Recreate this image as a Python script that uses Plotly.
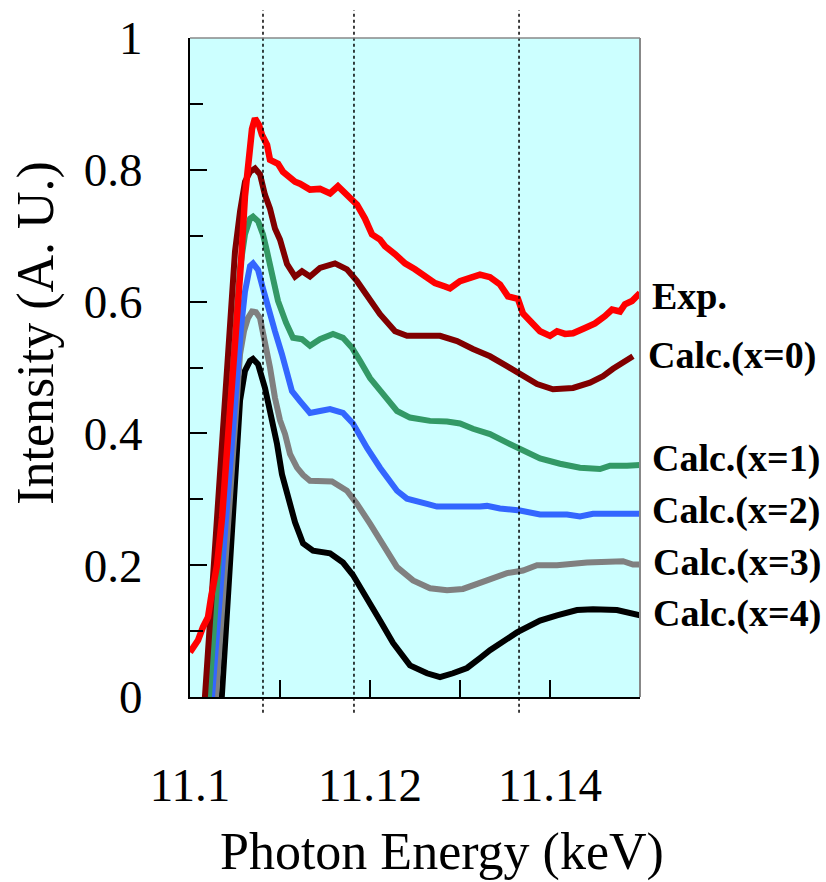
import plotly.graph_objects as go

# ---- data (Photon energy in keV, intensity in A.U.) ----
exp_e = [11.10000, 11.10089, 11.10144, 11.10200, 11.10233, 11.10300, 11.10356, 11.10411, 11.10467, 11.10522,
         11.10567, 11.10611, 11.10656, 11.10689, 11.10722, 11.10767, 11.10800, 11.10856, 11.10889, 11.10944,
         11.10978, 11.11033, 11.11111, 11.11167, 11.11222, 11.11333, 11.11444, 11.11556, 11.11644, 11.11722,
         11.11800, 11.11856, 11.11944, 11.12022, 11.12111, 11.12167, 11.12278, 11.12389, 11.12500, 11.12611,
         11.12722, 11.12833, 11.12889, 11.13000, 11.13111, 11.13222, 11.13333, 11.13444, 11.13533, 11.13644,
         11.13700, 11.13778, 11.13889, 11.14000, 11.14078, 11.14167, 11.14256, 11.14389, 11.14500, 11.14611,
         11.14689, 11.14778, 11.14833, 11.14911, 11.15000]
exp_i = [0.068, 0.086, 0.106, 0.121, 0.150, 0.200, 0.272, 0.374, 0.475, 0.560,
         0.660, 0.760, 0.830, 0.862, 0.878, 0.868, 0.853, 0.838, 0.815, 0.812,
         0.809, 0.797, 0.788, 0.782, 0.779, 0.770, 0.771, 0.764, 0.775, 0.764,
         0.756, 0.747, 0.726, 0.702, 0.694, 0.684, 0.672, 0.658, 0.649, 0.638,
         0.628, 0.623, 0.620, 0.631, 0.635, 0.641, 0.637, 0.626, 0.608, 0.604,
         0.582, 0.570, 0.555, 0.548, 0.555, 0.551, 0.552, 0.560, 0.567, 0.578,
         0.588, 0.585, 0.596, 0.601, 0.613]

x0_e = [11.10156, 11.10422, 11.10500, 11.10556, 11.10611, 11.10667, 11.10722, 11.10778, 11.10833, 11.10889,
        11.10944, 11.11000, 11.11078, 11.11167, 11.11244, 11.11333, 11.11444, 11.11611, 11.11744, 11.11856,
        11.12000, 11.12111, 11.12278, 11.12411, 11.12778, 11.12967, 11.13144, 11.13333, 11.13522, 11.13667,
        11.13856, 11.14033, 11.14256, 11.14444, 11.14589, 11.14700, 11.14922]
x0_i = [-0.02, 0.510, 0.676, 0.737, 0.782, 0.797, 0.802, 0.793, 0.762, 0.741,
        0.711, 0.694, 0.657, 0.638, 0.646, 0.638, 0.651, 0.658, 0.649, 0.631,
        0.601, 0.581, 0.555, 0.548, 0.548, 0.540, 0.528, 0.517, 0.502, 0.490,
        0.475, 0.467, 0.469, 0.477, 0.487, 0.498, 0.517]

x1_e = [11.10200, 11.10467, 11.10500, 11.10556, 11.10611, 11.10667, 11.10700, 11.10756, 11.10811, 11.10856,
        11.10911, 11.10978, 11.11067, 11.11144, 11.11244, 11.11333, 11.11444, 11.11589, 11.11700, 11.11800,
        11.11889, 11.12000, 11.12144, 11.12300, 11.12444, 11.12667, 11.12856, 11.13000, 11.13144, 11.13333,
        11.13522, 11.13700, 11.13889, 11.14111, 11.14333, 11.14556, 11.14667, 11.14856, 11.15000]
x1_i = [-0.02, 0.510, 0.551, 0.651, 0.702, 0.726, 0.729, 0.722, 0.702, 0.676,
        0.641, 0.601, 0.568, 0.545, 0.543, 0.533, 0.543, 0.551, 0.545, 0.530,
        0.510, 0.484, 0.460, 0.434, 0.424, 0.419, 0.418, 0.415, 0.407, 0.399,
        0.386, 0.374, 0.362, 0.354, 0.348, 0.346, 0.351, 0.351, 0.352]

x2_e = [11.10233, 11.10533, 11.10567, 11.10611, 11.10667, 11.10700, 11.10756, 11.10811, 11.10867, 11.10944,
        11.11022, 11.11078, 11.11133, 11.11222, 11.11333, 11.11444, 11.11556, 11.11700, 11.11811, 11.11967,
        11.12111, 11.12300, 11.12411, 11.12633, 11.12744, 11.13222, 11.13300, 11.13444, 11.13667, 11.13889,
        11.14189, 11.14333, 11.14478, 11.15000]
x2_i = [-0.02, 0.510, 0.560, 0.615, 0.654, 0.658, 0.648, 0.620, 0.590, 0.555,
        0.520, 0.495, 0.464, 0.449, 0.431, 0.434, 0.437, 0.431, 0.415, 0.378,
        0.348, 0.313, 0.301, 0.293, 0.289, 0.289, 0.290, 0.286, 0.283, 0.277,
        0.277, 0.274, 0.278, 0.278]

x3_e = [11.10278, 11.10556, 11.10600, 11.10644, 11.10689, 11.10733, 11.10778, 11.10833, 11.10889, 11.10944,
        11.11000, 11.11056, 11.11111, 11.11189, 11.11256, 11.11333, 11.11578, 11.11744, 11.11856, 11.12000,
        11.12111, 11.12300, 11.12478, 11.12667, 11.12856, 11.13033, 11.13300, 11.13522, 11.13700, 11.13856,
        11.14078, 11.14411, 11.14811, 11.14922, 11.15000]
x3_i = [-0.02, 0.520, 0.555, 0.575, 0.585, 0.584, 0.575, 0.540, 0.500, 0.454,
        0.420, 0.399, 0.369, 0.348, 0.337, 0.328, 0.327, 0.313, 0.293, 0.263,
        0.238, 0.197, 0.177, 0.165, 0.162, 0.164, 0.177, 0.188, 0.192, 0.200,
        0.200, 0.204, 0.206, 0.201, 0.201]

x4_e = [11.10344, 11.10556, 11.10611, 11.10667, 11.10700, 11.10756, 11.10833, 11.10911, 11.10967, 11.11022,
        11.11078, 11.11167, 11.11256, 11.11367, 11.11556, 11.11700, 11.11811, 11.11967, 11.12111, 11.12256,
        11.12444, 11.12633, 11.12778, 11.12922, 11.13078, 11.13222, 11.13333, 11.13633, 11.13889, 11.14078,
        11.14300, 11.14478, 11.14744, 11.15000]
x4_i = [-0.02, 0.450, 0.495, 0.510, 0.513, 0.505, 0.469, 0.424, 0.384, 0.338,
        0.309, 0.265, 0.233, 0.222, 0.218, 0.204, 0.185, 0.147, 0.116, 0.082,
        0.048, 0.036, 0.030, 0.036, 0.044, 0.059, 0.071, 0.098, 0.116, 0.124,
        0.132, 0.133, 0.132, 0.124]

ref_lines = [11.10811, 11.11822, 11.13656]

labels = ["Exp.", "Calc.(x=0)", "Calc.(x=1)", "Calc.(x=2)", "Calc.(x=3)", "Calc.(x=4)"]

x_tickvals = [11.10, 11.12, 11.14]
x_ticktext = ["11.1", "11.12", "11.14"]
x_minor = [11.11, 11.13, 11.15]
y_tickvals = [0, 0.2, 0.4, 0.6, 0.8, 1.0]
y_ticktext = ["0", "0.2", "0.4", "0.6", "0.8", "1"]
y_minor = [0.1, 0.3, 0.5, 0.7, 0.9]

# ---- figure ----
fig = go.Figure()
series = [
    (x4_e, x4_i, "#000000", 6),
    (x3_e, x3_i, "#808080", 6),
    (x2_e, x2_i, "#3366FF", 6),
    (x1_e, x1_i, "#339966", 6),
    (x0_e, x0_i, "#800000", 6),
    (exp_e, exp_i, "#FF0000", 6.5),
]
for xs, ys, col, w in series:
    fig.add_trace(go.Scatter(x=xs, y=ys, mode="lines",
                             line=dict(color=col, width=w, shape="linear"),
                             showlegend=False, hoverinfo="skip"))

for xv in ref_lines:
    fig.add_shape(type="line", xref="x", yref="paper", x0=xv, x1=xv, y0=-0.024, y1=1.042,
                  line=dict(color="black", width=1.5, dash="dot"), layer="above")

# top and right frame (gray)
fig.add_shape(type="line", xref="paper", yref="paper", x0=0, x1=1, y0=1, y1=1,
              line=dict(color="#888888", width=1.5), layer="above")
fig.add_shape(type="line", xref="paper", yref="paper", x0=1, x1=1, y0=0, y1=1,
              line=dict(color="#888888", width=2), layer="above")

label_pos = [(1.0230, 0.608), (1.0140, 0.518), (1.0230, 0.3616),
             (1.0230, 0.283), (1.0250, 0.204), (1.0250, 0.127)]
for txt, (ax, ay) in zip(labels, label_pos):
    fig.add_annotation(x=ax, y=ay, xref="paper", yref="paper", text="<b>" + txt + "</b>",
                       showarrow=False, xanchor="left", yanchor="middle",
                       font=dict(family="Liberation Serif", size=38, color="black"))

fig.add_annotation(x=0.56, y=-0.2345, xref="paper", yref="paper", text="Photon Energy (keV)",
                   showarrow=False, xanchor="center", yanchor="middle",
                   font=dict(family="Liberation Serif", size=52, color="black"))
fig.add_annotation(x=-0.344, y=0.553, xref="paper", yref="paper", text="Intensity (A. U.)",
                   showarrow=False, xanchor="center", yanchor="middle", textangle=-90,
                   font=dict(family="Liberation Serif", size=52, color="black"))

fig.update_xaxes(range=[11.1, 11.15], tickmode="array", tickvals=x_tickvals, ticktext=x_ticktext,
                 ticks="inside", ticklen=17, tickwidth=1.5, tickcolor="black",
                 minor=dict(tickvals=x_minor, ticks="inside", ticklen=17, tickwidth=1.5, tickcolor="black"),
                 showgrid=False, zeroline=False, showline=True, linecolor="black", linewidth=2,
                 ticklabelstandoff=46,
                 tickfont=dict(family="Liberation Serif", size=47, color="black"))
fig.update_yaxes(range=[0, 1], tickmode="array", tickvals=y_tickvals, ticktext=y_ticktext,
                 ticks="inside", ticklen=17, tickwidth=1.5, tickcolor="black",
                 minor=dict(tickvals=y_minor, ticks="inside", ticklen=13, tickwidth=1.5, tickcolor="black"),
                 showgrid=False, zeroline=False, showline=True, linecolor="black", linewidth=2,
                 ticklabelstandoff=36,
                 tickfont=dict(family="Liberation Serif", size=47, color="black"))

fig.update_layout(width=826, height=882, margin=dict(l=190, r=186, t=36, b=185),
                  paper_bgcolor="white", plot_bgcolor="#CCFFFF", showlegend=False)

fig.write_html("out.html")
